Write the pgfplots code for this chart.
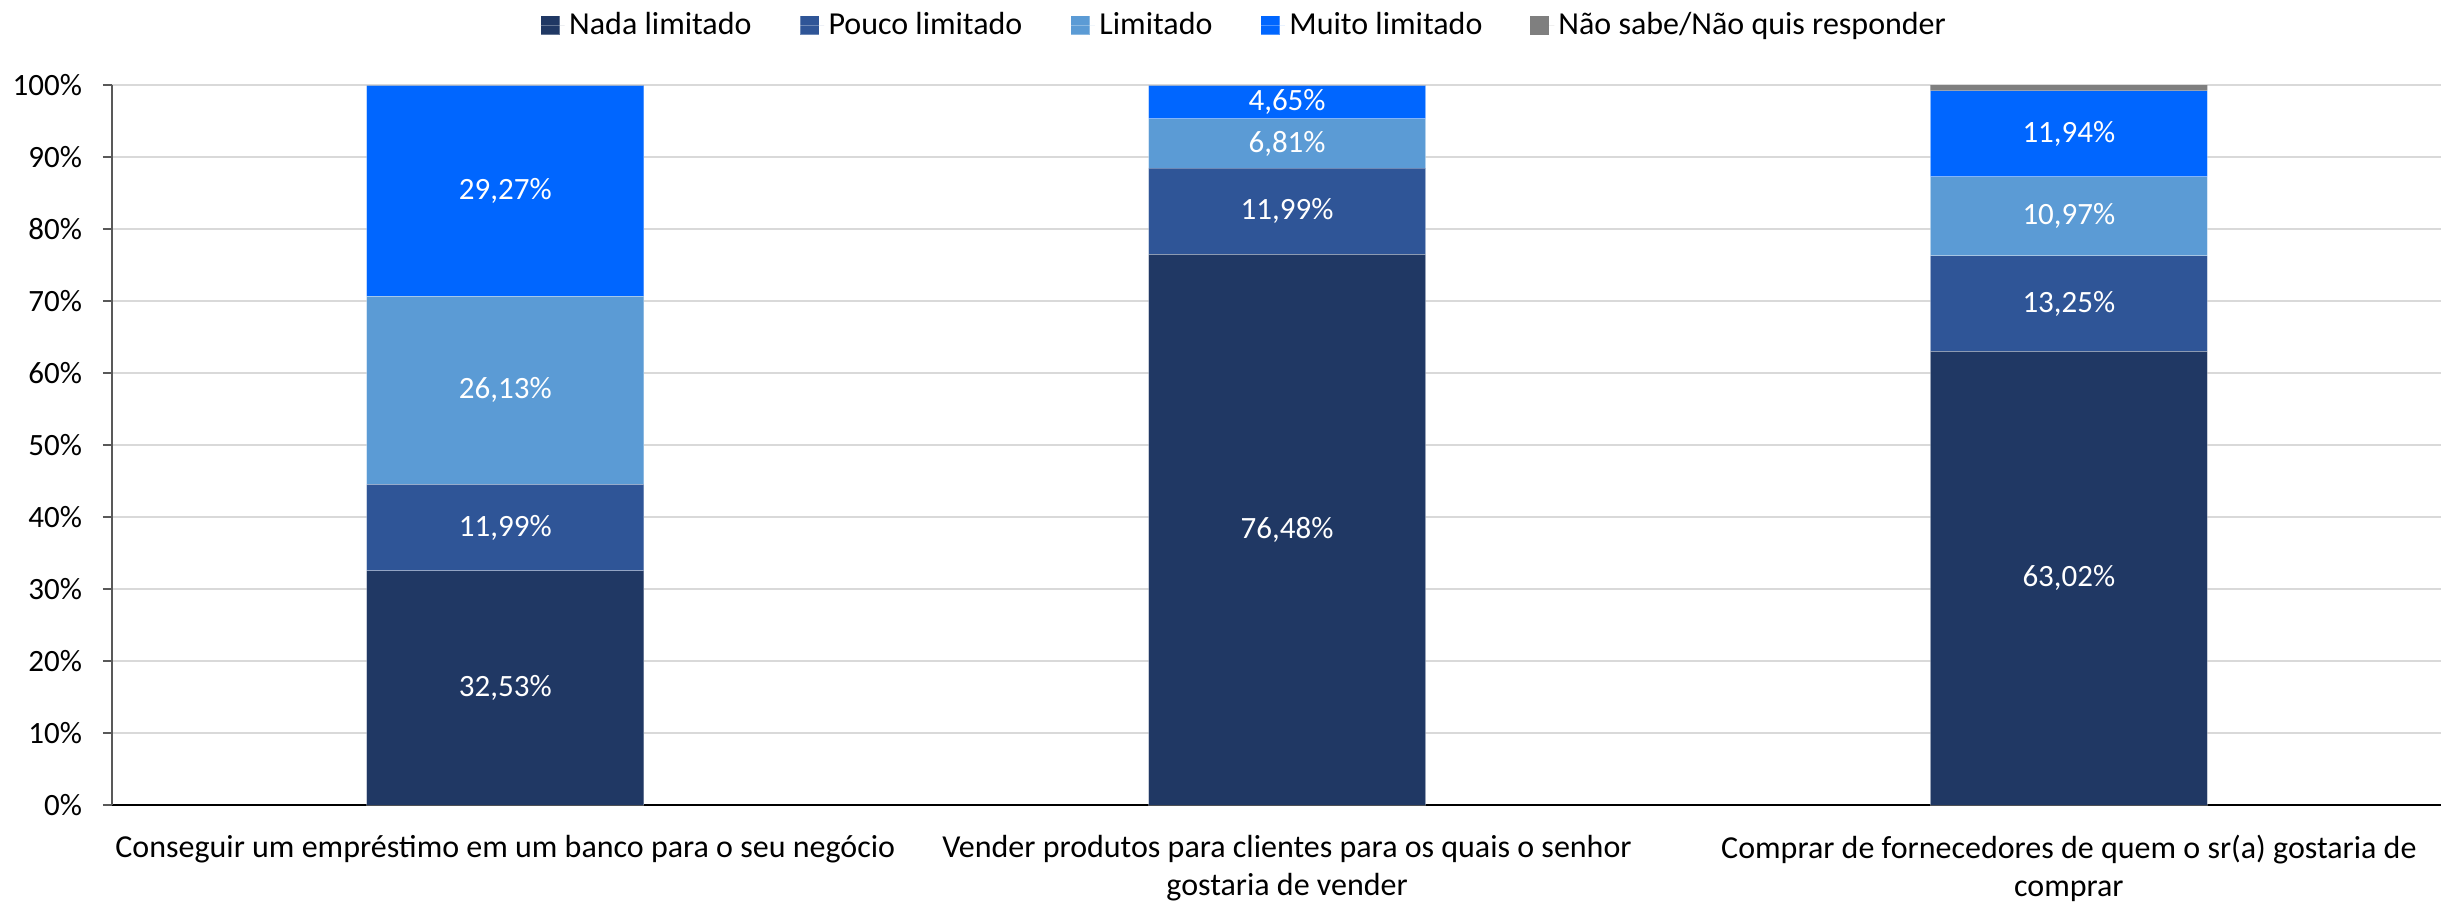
\documentclass[border=0pt]{standalone}
\usepackage{fontspec}
\setmainfont{Carlito}
\usepackage{pgfplots}
\usepackage{pgfplotstable}
\pgfplotsset{compat=1.18}
\definecolor{cNada}{HTML}{203864}
\definecolor{cPouco}{HTML}{2F5597}
\definecolor{cLim}{HTML}{5B9BD5}
\definecolor{cMuito}{HTML}{0066FF}
\definecolor{cNS}{HTML}{7F7F7F}
\definecolor{cGrid}{HTML}{D9D9D9}
% label positions: middle of each segment
\pgfplotstableread{
x  y       v
0  16.265  32.53
0  38.525  11.99
0  57.585  26.13
0  85.285  29.27
1  38.240  76.48
1  82.475  11.99
1  91.875  6.81
1  97.605  4.65
2  31.510  63.02
2  69.645  13.25
2  81.755  10.97
2  93.210  11.94
}\labels
\pgfplotsset{common/.style={
  at={(0,0)}, anchor=south west,
  scale only axis, width=1164.5pt, height=360pt,
  xmin=-0.503, xmax=2.476, ymin=0, ymax=100,
  /pgf/number format/assume math mode=true}}
\begin{document}
\begin{tikzpicture}
\begin{axis}[
  common,
  ybar stacked, bar width=138.5pt,
  axis x line*=bottom, axis y line*=left,
  x axis line style={black, line width=1.3pt},
  y axis line style={black!65, line width=1pt},
  xtick={0,1,2},
  xticklabels={Conseguir um empréstimo em um banco para o seu negócio,
    {Vender produtos para clientes para os quais o senhor\\gostaria de vender},
    {Comprar de fornecedores de quem o sr(a) gostaria de\\comprar}},
  xticklabel style={align=center, font=\fontsize{16}{19}\selectfont, yshift=-7pt},
  x tick style={draw=none},
  ytick={0,10,...,100},
  yticklabel={\pgfmathprintnumber{\tick}\%},
  yticklabel style={font=\fontsize{15.5}{18}\selectfont, xshift=-7pt},
  y tick style={draw=black!65, line width=1pt},
  tick align=outside, major tick length=4.5pt,
  ymajorgrids, grid style={cGrid, line width=1pt},
  legend columns=-1,
  legend style={at={(0.4865,1.0833)}, anchor=center, draw=none, fill=none,
    font=\fontsize{16}{19}\selectfont,
    /tikz/every even column/.append style={column sep=22pt}},
  legend image code/.code={\fill[#1] (0pt,-4.75pt) rectangle (9.5pt,4.75pt); \path (0pt,0pt) -- (12pt,0pt);},
  legend cell align=left,
]
\addplot[fill=cNada, draw=white, draw opacity=0.3, line width=0.5pt] coordinates {(0,32.53) (1,76.48) (2,63.02)};
\addplot[fill=cPouco, draw=white, draw opacity=0.3, line width=0.5pt] coordinates {(0,11.99) (1,11.99) (2,13.25)};
\addplot[fill=cLim, draw=white, draw opacity=0.3, line width=0.5pt] coordinates {(0,26.13) (1,6.81) (2,10.97)};
\addplot[fill=cMuito, draw=white, draw opacity=0.3, line width=0.5pt] coordinates {(0,29.27) (1,4.65) (2,11.94)};
\addplot[fill=cNS, draw=none] coordinates {(0,0.08) (1,0.07) (2,0.82)};
\legend{Nada limitado, Pouco limitado, Limitado, Muito limitado, Não sabe/Não quis responder}
\end{axis}
\begin{axis}[common, hide axis]
\addplot[draw=none, mark=none, point meta=\thisrow{v},
  nodes near coords={\pgfmathprintnumber[fixed,fixed zerofill,precision=2,use comma]{\pgfplotspointmeta}\%},
  every node near coord/.append style={anchor=center, text=white, font=\fontsize{15.5}{18}\selectfont}]
  table[x=x, y=y] {\labels};
\end{axis}
\pgfresetboundingbox
\useasboundingbox (-56pt,-48.5pt) rectangle (1167pt,402.5pt);
\end{tikzpicture}
\end{document}
